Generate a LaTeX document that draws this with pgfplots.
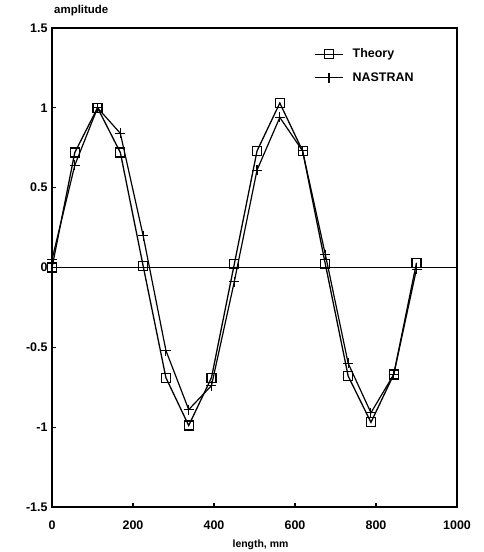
\documentclass[border=0pt]{standalone}
\usepackage{fontspec}
\setmainfont{Liberation Sans}
\usepackage{pgfplots}
\pgfplotsset{compat=1.18}
\begin{document}
\begin{tikzpicture}[x=1bp,y=1bp]
\path[use as bounding box] (0,0) rectangle (484,552);
\begin{axis}[
  at={(52bp,45bp)}, anchor=south west,
  scale only axis, width=405bp, height=479bp,
  xmin=0, xmax=1000, ymin=-1.5, ymax=1.5,
  xtick={0,200,400,600,800,1000},
  ytick={-1.5,-1,-0.5,0,0.5,1,1.5},
  yticklabels={-1.5,-1,-0.5,0,0.5,1,1.5},
  tick pos=left, tick align=inside,
  major tick length=4bp,
  axis line style={line width=1.3pt},
  every tick/.style={black, line width=1.2pt},
  /pgf/number format/assume math mode=true,
  /pgf/number format/1000 sep={},
  tick label style={font=\fontsize{12.5}{14}\selectfont\bfseries},
  xticklabel style={yshift=-10bp},
  yticklabel style={xshift=-1bp},
  xlabel={length, mm},
  xlabel style={font=\fontsize{10.5}{12}\selectfont\bfseries, yshift=-4bp, xshift=6bp},
  legend style={at={(0.64,0.965)}, anchor=north west, draw=none, fill=none,
    font=\fontsize{12.5}{14}\selectfont\bfseries, row sep=9bp,
    legend cell align=left,
    /tikz/every odd column/.append style={column sep=7bp}},
  legend image code/.code={\draw[mark repeat=2,mark phase=2,#1] plot coordinates {(0bp,0bp) (14bp,0bp) (28bp,0bp)};},
  legend image post style={line width=1.3pt},
  clip=false,
]
\addplot[black, line width=1.2pt, forget plot] coordinates {(0,0) (1000,0)};
\addplot[black, line width=1.3pt, mark=square, mark size=4.5bp, mark options={solid, line width=1.2pt, fill=white}] coordinates {
(0,0) (56.25,0.72) (112.5,1.0) (168.75,0.72) (225,0.01) (281.25,-0.69) (337.5,-0.99) (393.75,-0.69)
(450,0.02) (506.25,0.73) (562.5,1.03) (618.75,0.73) (675,0.02) (731.25,-0.68) (787.5,-0.97) (843.75,-0.67) (900,0.03)};
\addlegendentry{Theory}
\addplot[black, line width=1.2pt, mark=+, mark size=5bp, mark options={line width=1.1pt}] coordinates {
(0,0.05) (56.25,0.64) (112.5,1.0) (168.75,0.84) (225,0.20) (281.25,-0.52) (337.5,-0.89) (393.75,-0.74)
(450,-0.09) (506.25,0.61) (562.5,0.94) (618.75,0.73) (675,0.08) (731.25,-0.60) (787.5,-0.91) (843.75,-0.67) (900,-0.01)};
\addlegendentry{NASTRAN}
\node[anchor=south west, font=\fontsize{11.5}{13}\selectfont\bfseries, inner sep=0pt] at (rel axis cs:0,1) [yshift=12bp, xshift=2bp] {amplitude};
\end{axis}
\end{tikzpicture}
\end{document}
